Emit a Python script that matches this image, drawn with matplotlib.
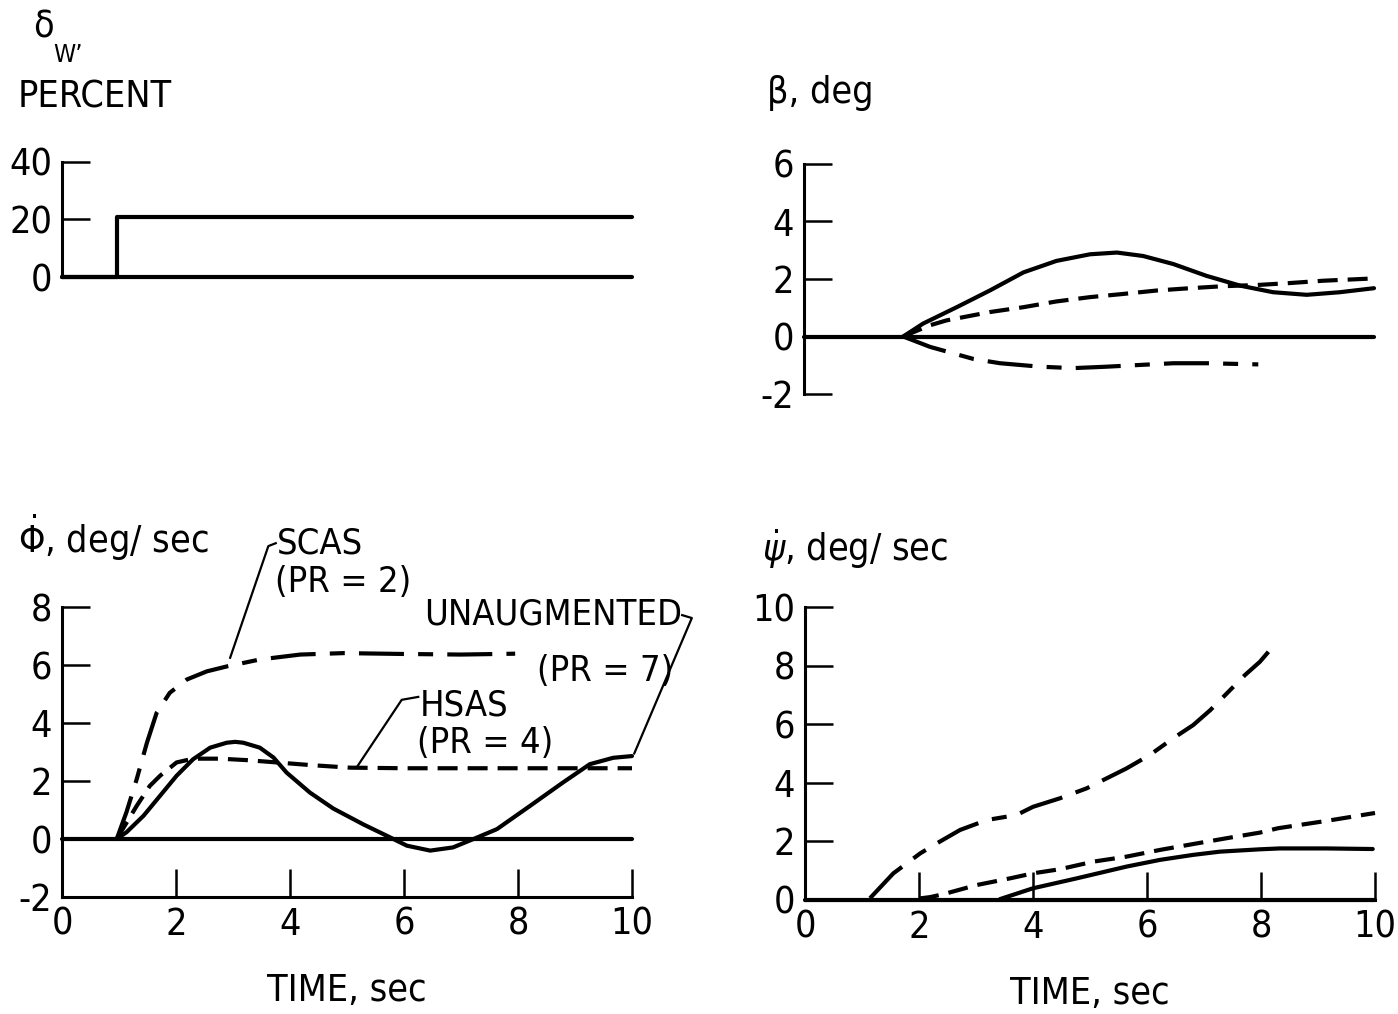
import matplotlib.pyplot as plt

plt.rcParams['font.family'] = ['DejaVu Sans']
plt.rcParams['font.stretch'] = 'condensed'
plt.rcParams['font.size'] = 27
plt.rcParams['axes.unicode_minus'] = False

W, H = 1398, 1014

# ---- data ----
t_span = [0, 10]
zero = [0, 0]

# delta_w step input
dw_t = [0, 0.97, 0.97, 10]
dw_v = [0, 0, 21, 21]

# sideslip beta
beta_unaug_t = [1.74, 2.09, 2.68, 3.26, 3.85, 4.43, 5.02, 5.49, 5.95, 6.48, 7.06, 7.65, 8.23, 8.82, 9.4, 10.0]
beta_unaug_v = [0, 0.45, 1.02, 1.6, 2.23, 2.63, 2.86, 2.92, 2.8, 2.52, 2.11, 1.77, 1.54, 1.45, 1.54, 1.68]
beta_hsas_t = [1.74, 2.21, 2.5, 3.26, 3.85, 4.43, 5.02, 5.6, 6.19, 6.77, 7.36, 7.94, 8.53, 9.11, 10.0]
beta_hsas_v = [0, 0.39, 0.56, 0.85, 1.02, 1.22, 1.37, 1.48, 1.6, 1.68, 1.75, 1.79, 1.86, 1.94, 2.02]
beta_scas_t = [1.74, 2.21, 2.97, 3.44, 4.14, 4.72, 5.31, 5.89, 6.48, 7.06, 7.97]
beta_scas_v = [0, -0.36, -0.78, -0.93, -1.05, -1.1, -1.05, -0.99, -0.93, -0.93, -0.97]

# roll rate
phi_unaug_t = [0.96, 1.13, 1.43, 1.72, 2.01, 2.3, 2.6, 2.89, 3.04, 3.18, 3.47, 3.71, 3.94, 4.35, 4.76,
               5.29, 5.7, 6.05, 6.46, 6.86, 7.22, 7.63, 8.21, 8.79, 9.26, 9.67, 10.0]
phi_unaug_v = [0, 0.23, 0.8, 1.49, 2.18, 2.75, 3.15, 3.32, 3.35, 3.32, 3.15, 2.81, 2.29, 1.6, 1.05,
               0.5, 0.11, -0.23, -0.4, -0.29, 0, 0.34, 1.14, 1.95, 2.58, 2.8, 2.86]
phi_hsas_t = [0.96, 1.31, 1.54, 1.72, 2.01, 2.3, 2.77, 3.24, 3.77, 4.35, 5.05, 6.0, 7.5, 9.0, 10.0]
phi_hsas_v = [0, 1.14, 1.83, 2.18, 2.64, 2.77, 2.77, 2.72, 2.64, 2.55, 2.46, 2.44, 2.44, 2.44, 2.44]
phi_scas_t = [0.96, 1.13, 1.31, 1.49, 1.66, 1.89, 2.19, 2.54, 2.89, 3.47, 4.18, 4.94, 6.0, 7.0, 7.95]
phi_scas_v = [0, 0.92, 2.06, 3.32, 4.35, 5.04, 5.5, 5.78, 5.95, 6.19, 6.36, 6.41, 6.38, 6.36, 6.39]

# yaw rate
psi_scas_t = [1.14, 1.55, 2.02, 2.31, 2.72, 3.19, 3.71, 4.0, 4.47, 4.94, 5.64, 6.05, 6.46,
              6.81, 7.11, 7.4, 7.72, 7.98, 8.13]
psi_scas_v = [0.06, 0.91, 1.59, 1.93, 2.39, 2.73, 2.9, 3.18, 3.47, 3.81, 4.49, 4.95, 5.52,
              5.97, 6.48, 7.05, 7.68, 8.13, 8.47]
psi_hsas_t = [2.0, 2.2, 2.43, 3.01, 3.6, 4.0, 4.47, 5.06, 5.64, 6.23, 6.81, 7.4, 7.98, 8.3, 9.15, 10.0]
psi_hsas_v = [0.05, 0.1, 0.2, 0.51, 0.74, 0.91, 1.05, 1.31, 1.48, 1.71, 1.91, 2.11, 2.3, 2.45, 2.7, 2.97]
psi_unaug_t = [3.42, 4.0, 4.77, 5.64, 6.23, 6.81, 7.28, 7.98, 8.33, 9.15, 9.96]
psi_unaug_v = [0.03, 0.4, 0.74, 1.14, 1.37, 1.54, 1.65, 1.73, 1.76, 1.76, 1.74]

LW = 3.0
solid = dict(color='black', lw=LW, solid_capstyle='round', solid_joinstyle='round', clip_on=False)
short_dash = dict(color='black', lw=LW, ls=(0, (4.8, 2.4)), clip_on=False)
dash_dot = dict(color='black', lw=LW, ls=(0, (10.8, 3.4, 3.6, 3.4)), clip_on=False)


def box(x0, x1, ytop, ybot):
    return [x0 / W, 1 - ybot / H, (x1 - x0) / W, (ybot - ytop) / H]


def style(ax, yticks, bottom):
    for s in ['top', 'right']:
        ax.spines[s].set_visible(False)
    ax.spines['left'].set_linewidth(2.2)
    ax.spines['bottom'].set_linewidth(2.2)
    ax.spines['bottom'].set_visible(bottom)
    ax.set_xlim(0, 10)
    ax.set_ylim(yticks[0], yticks[-1])
    ax.set_yticks(yticks)
    ax.tick_params(direction='in', length=20, width=1.8, pad=7)
    if bottom:
        ax.set_xticks([0, 2, 4, 6, 8, 10])
        ax.set_xlabel('TIME, sec', labelpad=22)
    else:
        ax.set_xticks([])
    ax.patch.set_visible(False)


fig = plt.figure(figsize=(W / 100, H / 100), dpi=100)

ax1 = fig.add_axes(box(62, 632, 162, 277))
ax2 = fig.add_axes(box(804, 1374, 164, 394))
ax3 = fig.add_axes(box(62, 632, 607, 897))
ax4 = fig.add_axes(box(805, 1375, 607, 900))

style(ax1, [0, 20, 40], False)
style(ax2, [-2, 0, 2, 4, 6], False)
style(ax3, [-2, 0, 2, 4, 6, 8], True)
style(ax4, [0, 2, 4, 6, 8, 10], True)

# top left: step input
ax1.plot(t_span, zero, **solid)
ax1.plot(dw_t, dw_v, **solid)

# top right: beta
ax2.plot(t_span, zero, **solid)
ax2.plot(beta_unaug_t, beta_unaug_v, **solid)
ax2.plot(beta_hsas_t, beta_hsas_v, **short_dash)
ax2.plot(beta_scas_t, beta_scas_v, **dash_dot)

# bottom left: roll rate
ax3.plot(t_span, zero, **solid)
ax3.plot(phi_unaug_t, phi_unaug_v, **solid)
ax3.plot(phi_hsas_t, phi_hsas_v, **short_dash)
ax3.plot(phi_scas_t, phi_scas_v, **dash_dot)

# bottom right: yaw rate
ax4.plot(t_span, zero, **solid)
ax4.plot(psi_unaug_t, psi_unaug_v, **solid)
ax4.plot(psi_hsas_t, psi_hsas_v, **short_dash)
ax4.plot(psi_scas_t, psi_scas_v, **dash_dot)

# labels on the curves
lead = dict(color='black', lw=1.6, clip_on=False)
note = dict(va='center', ha='left', fontsize=26)
ax3.plot([3.75, 3.62, 2.95], [10.2, 10.1, 6.25], **lead)
ax3.text(3.77, 10.2, 'SCAS', **note)
ax3.text(3.74, 8.85, '(PR = 2)', **note)
ax3.plot([10.88, 11.05, 10.04], [7.72, 7.62, 2.95], **lead)
ax3.text(6.35, 7.73, 'UNAUGMENTED', **note)
ax3.text(8.33, 5.8, '(PR = 7)', **note)
ax3.plot([6.25, 5.96, 5.18], [4.9, 4.8, 2.5], **lead)
ax3.text(6.28, 4.6, 'HSAS', **note)
ax3.text(6.23, 3.3, '(PR = 4)', **note)


def ftext(x, y, s, **kw):
    fig.text(x / W, 1 - y / H, s, ha='left', va='baseline', **kw)


# axis titles
ftext(33, 38, 'δ')
ftext(53, 62, 'W’', fontsize=18)
ftext(18, 107, 'PERCENT')
ftext(767, 103, 'β, deg')
ftext(18, 553, r'$\dot{\Phi}$, deg/ sec')
ftext(762, 561, r'$\dot{\psi}$, deg/ sec')

fig.savefig('out.png', dpi=100)
